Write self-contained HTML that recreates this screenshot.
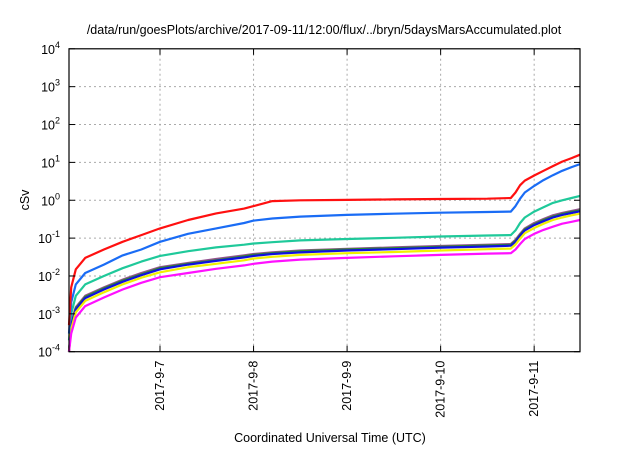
<!DOCTYPE html>
<html><head><meta charset="utf-8">
<style>
body{margin:0;background:#fff;font-family:"Liberation Sans",sans-serif;}
svg text{font-family:"Liberation Sans",sans-serif;fill:#000;}
</style></head>
<body>
<svg id="chart" width="640" height="448" viewBox="0 0 640 448">
<text x="324" y="34" text-anchor="middle" font-size="12.5">/data/run/goesPlots/archive/2017-09-11/12:00/flux/../bryn/5daysMarsAccumulated.plot</text>
<text x="330" y="442" text-anchor="middle" font-size="12.5">Coordinated Universal Time (UTC)</text>
<text transform="translate(29,200) rotate(-90)" text-anchor="middle" font-size="12.5">cSv</text>
<g id="grid"></g><g id="series"></g><g id="axes"></g>
</svg>
<script>
const times = [-0.973,-0.95,-0.9,-0.8,-0.6,-0.4,-0.2,0,0.3,0.6,0.9,1.0,1.2,1.5,2,2.5,3,3.5,3.75,3.8,3.85,3.9,4.0,4.1,4.2,4.3,4.4,4.49];
const red    = [0.0005,0.005,0.015,0.03,0.05,0.08,0.12,0.18,0.3,0.45,0.6,0.7,0.95,1.0,1.02,1.05,1.08,1.1,1.15,1.6,2.5,3.3,4.5,6,8,10.5,13,16];
const blue   = [0.0003,0.002,0.006,0.012,0.02,0.035,0.05,0.08,0.13,0.18,0.25,0.29,0.33,0.37,0.41,0.44,0.47,0.49,0.5,0.7,1.1,1.6,2.4,3.4,4.6,6,7.5,9];
const teal   = [0.0002,0.001,0.003,0.006,0.01,0.016,0.024,0.034,0.045,0.057,0.067,0.072,0.078,0.087,0.095,0.102,0.11,0.117,0.12,0.16,0.25,0.35,0.5,0.65,0.85,1.0,1.15,1.3];
const purple = [0.0001,0.0006,0.0015,0.003,0.005,0.008,0.012,0.017,0.022,0.028,0.035,0.038,0.042,0.047,0.052,0.057,0.062,0.067,0.07,0.09,0.13,0.18,0.25,0.32,0.4,0.46,0.52,0.58];
const green  = [0.0001,0.0005,0.0014,0.0028,0.0047,0.0075,0.011,0.016,0.021,0.026,0.033,0.036,0.04,0.045,0.05,0.054,0.059,0.064,0.066,0.085,0.12,0.17,0.23,0.3,0.37,0.43,0.49,0.54];
const navy   = [0.0001,0.0005,0.0013,0.0026,0.0044,0.007,0.0105,0.015,0.02,0.025,0.031,0.034,0.038,0.042,0.047,0.051,0.056,0.06,0.063,0.08,0.115,0.16,0.22,0.28,0.35,0.41,0.46,0.51];
const yellow = [0.0001,0.0004,0.0011,0.0022,0.0037,0.006,0.009,0.0125,0.017,0.021,0.026,0.029,0.032,0.036,0.04,0.043,0.047,0.051,0.053,0.068,0.097,0.135,0.185,0.24,0.3,0.35,0.4,0.44];
const magenta= [0.0001,0.0003,0.0008,0.0016,0.0027,0.0044,0.0066,0.0093,0.012,0.0155,0.019,0.021,0.024,0.027,0.03,0.033,0.036,0.039,0.04,0.05,0.07,0.095,0.13,0.165,0.2,0.24,0.27,0.3];
const seriesList = [["purple",purple,"#94518f"],["green",green,"#2e8b2e"],["teal",teal,"#1fc99a"],["navy",navy,"#1010e0"],["yellow",yellow,"#f0f000"],["magenta",magenta,"#ff10ff"],["blue",blue,"#1a6cf5"],["red",red,"#ff1010"]];
const xTickLabels = ["2017-9-7","2017-9-8","2017-9-9","2017-9-10","2017-9-11"];
const xTickDays = [0,1,2,3,4];
const yTickExps = [-4,-3,-2,-1,0,1,2,3,4];

const L=69,R=580,T=48.8,B=351.7, X0=-0.973, X1=4.49;
const NS="http://www.w3.org/2000/svg";
const xs=d=>L+(d-X0)/(X1-X0)*(R-L);
const ys=v=>B-(Math.log10(v)+4)/8*(B-T);
function mk(tag,attrs,parent){const e=document.createElementNS(NS,tag);for(const k in attrs)e.setAttribute(k,attrs[k]);parent.appendChild(e);return e;}
const grid=document.getElementById('grid'),axes=document.getElementById('axes'),ser=document.getElementById('series');
yTickExps.forEach(ex=>{
  const y=ys(Math.pow(10,ex));
  if(ex>-4&&ex<4){const g=mk('line',{x1:L,x2:R,y1:y,y2:y,stroke:'#aaa','stroke-dasharray':'2,3','stroke-width':1},grid);
  
  }
  const t1=mk('line',{x1:L,x2:L+6,y1:y,y2:y,stroke:'#000'},axes);
  
  
  mk('line',{x1:R-6,x2:R,y1:y,y2:y,stroke:'#000'},axes);
  const tx=mk('text',{x:L-9,y:y+5,'text-anchor':'end','font-size':'12.5'},axes);
  
  
  tx.textContent='10';
  const sup=mk('tspan',{dy:-6,'font-size':'9'},tx);sup.textContent=String(ex);
});
xTickDays.forEach((d,i)=>{
  const x=xs(d);
  const g=mk('line',{x1:x,x2:x,y1:T,y2:B,stroke:'#aaa','stroke-dasharray':'2,3'},grid);
  
  
  mk('line',{x1:x,x2:x,y1:B,y2:B-6,stroke:'#000'},axes);
  mk('line',{x1:x,x2:x,y1:T,y2:T+6,stroke:'#000'},axes);
  const t=mk('text',{transform:`translate(${x+4},${B+9}) rotate(-90)`,'text-anchor':'end','font-size':'12.5'},axes);
  
  
  t.textContent=xTickLabels[i];
});
seriesList.forEach(([nm,vals,col])=>{
  let d='';
  vals.forEach((v,i)=>{const x=xs(times[i]).toFixed(1),y=ys(v).toFixed(1);d+=(i?'L':'M')+x+','+y;});
  const p=mk('path',{d:d,fill:'none',stroke:col,'stroke-width':2.2,'stroke-linejoin':'round'},ser);
  
  
});
const box=mk('rect',{x:L,y:T,width:R-L,height:B-T,fill:'none',stroke:'#000','stroke-width':1.2},axes);


</script>
</body></html>
